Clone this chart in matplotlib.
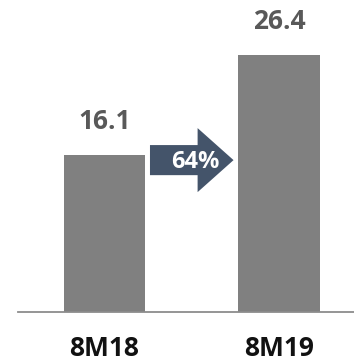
import matplotlib
matplotlib.use('Agg')
import matplotlib.pyplot as plt
from matplotlib.patches import Polygon

# data
categories = ['8M18', '8M19']
values = [16.1, 26.4]
growth_label = '64%'

plt.rcParams['font.family'] = ['Open Sans', 'DejaVu Sans']

fig = plt.figure(figsize=(3.54, 3.64), dpi=100)
ax = fig.add_axes([18 / 354, 52.5 / 364, 336 / 354, 311.5 / 364])

x = list(range(len(categories)))
bar_w = 0.465
ax.bar(x, values, width=bar_w, color='#808080')

ax.set_xlim(-0.496, 1.43)
ax.set_ylim(0, 32.1)

# value labels
for xi, v in zip(x, values):
    ax.annotate(f'{v:.1f}', (xi, v), xytext=(0, 24), textcoords='offset points',
                ha='center', va='center', fontsize=19, fontweight='bold', color='#595959')

# growth arrow between the bars
gap = 0.028
x0 = x[0] + bar_w / 2 + gap
x1 = x[1] - bar_w / 2 - gap
xh = x0 + (x1 - x0) * 0.57
yc = 15.6
bh = 1.55
hh = 3.3
arrow = Polygon([(x0, yc - bh), (xh, yc - bh), (xh, yc - hh), (x1, yc),
                 (xh, yc + hh), (xh, yc + bh), (x0, yc + bh)],
                closed=True, facecolor='#44546A', edgecolor='none')
ax.add_patch(arrow)
ax.text((x0 + x1) / 2 + 0.02, yc - 0.2, growth_label, ha='center', va='center',
        fontsize=17, fontweight='bold', color='white')

# axes styling
for s in ['top', 'right', 'left']:
    ax.spines[s].set_visible(False)
ax.spines['bottom'].set_color('#8c8c8c')
ax.spines['bottom'].set_linewidth(1.3)
ax.set_yticks([])
ax.set_xticks(x)
ax.set_xticklabels(categories, fontsize=19, fontweight='bold', color='#111111')
ax.tick_params(axis='x', length=0, pad=17)

fig.savefig('out.png', dpi=100)
